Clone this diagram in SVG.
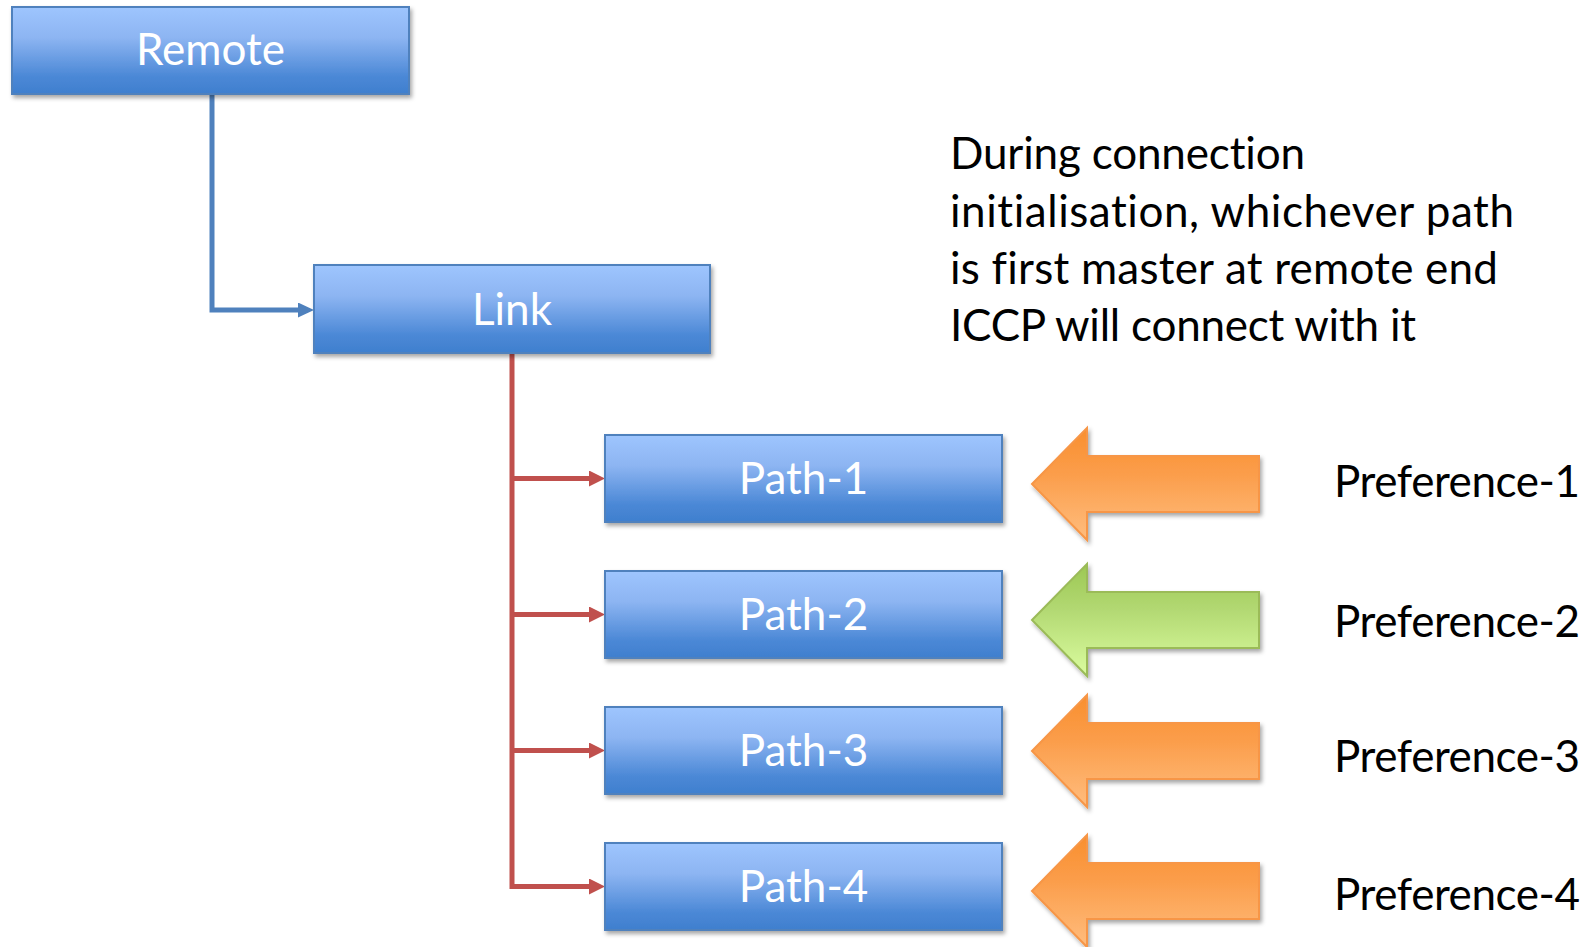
<svg xmlns="http://www.w3.org/2000/svg" width="1591" height="947" viewBox="0 0 1591 947">
<style>
  .box { fill: url(#gBlue); stroke: #4f81bd; stroke-width: 2; filter: url(#shadow); }
  .lbl { font-family: Lato, "Open Sans", "Liberation Sans", sans-serif; font-size: 44px; fill: #ffffff; text-anchor: middle; font-variant-ligatures: none; font-feature-settings: "liga" 0; }
  .txt { font-family: Lato, "Open Sans", "Liberation Sans", sans-serif; font-size: 44px; fill: #000000; font-variant-ligatures: none; font-feature-settings: "liga" 0; }
  .orange { fill: url(#gOrange); stroke: #f79646; stroke-width: 2; filter: url(#shadow); }
  .green { fill: url(#gGreen); stroke: #9bbb59; stroke-width: 2; filter: url(#shadow); }
  .blueLine { fill: none; stroke: #4f81bd; stroke-width: 5; }
  .redLine { fill: none; stroke: #c0504d; stroke-width: 5; }
</style>
<defs>
  <linearGradient id="gBlue" x1="0" y1="0" x2="0" y2="1">
    <stop offset="0" stop-color="#9ec5fe"/>
    <stop offset="0.35" stop-color="#8db5f2"/>
    <stop offset="0.8" stop-color="#4b88d6"/>
    <stop offset="1" stop-color="#3f7fce"/>
  </linearGradient>
  <linearGradient id="gOrange" x1="0" y1="0" x2="0" y2="1">
    <stop offset="0" stop-color="#f98f2e"/>
    <stop offset="0.4" stop-color="#fb9d4a"/>
    <stop offset="1" stop-color="#ffbd7e"/>
  </linearGradient>
  <linearGradient id="gGreen" x1="0" y1="0" x2="0" y2="1">
    <stop offset="0" stop-color="#9cc853"/>
    <stop offset="0.4" stop-color="#b2d872"/>
    <stop offset="1" stop-color="#dbfda0"/>
  </linearGradient>
  <filter id="shadow" x="-10%" y="-10%" width="120%" height="130%">
    <feDropShadow dx="2" dy="3" stdDeviation="2" flood-color="#000000" flood-opacity="0.35"/>
  </filter>
  <marker id="mBlue" markerUnits="userSpaceOnUse" markerWidth="16" markerHeight="15" refX="1" refY="7.5" orient="auto">
    <path d="M0,0 L16,7.5 L0,15 z" fill="#4f81bd"/>
  </marker>
  <marker id="mRed" markerUnits="userSpaceOnUse" markerWidth="16" markerHeight="16" refX="1" refY="8" orient="auto">
    <path d="M0,0 L16,8 L0,16 z" fill="#c0504d"/>
  </marker>
</defs>
<rect width="1591" height="947" fill="#ffffff"/>

<g id="connectors">
  <path class="blueLine" d="M212,94 V310 H299" marker-end="url(#mBlue)"/>
  <path class="redLine" d="M512,353 V886.5 H590" marker-end="url(#mRed)"/>
  <path class="redLine" d="M512,478.5 H590" marker-end="url(#mRed)"/>
  <path class="redLine" d="M512,614.5 H590" marker-end="url(#mRed)"/>
  <path class="redLine" d="M512,750.5 H590" marker-end="url(#mRed)"/>
</g>

<g id="remote">
  <rect class="box" x="12" y="7" width="397" height="87"/>
  <text class="lbl" x="210.5" y="65">Remote</text>
</g>
<g id="link">
  <rect class="box" x="314" y="265" width="396" height="88"/>
  <text class="lbl" x="512" y="325">Link</text>
</g>
<g id="path1">
  <rect class="box" x="605" y="435" width="397" height="87"/>
  <text class="lbl" x="803.5" y="494">Path-1</text>
</g>
<g id="path2">
  <rect class="box" x="605" y="571" width="397" height="87"/>
  <text class="lbl" x="803.5" y="630">Path-2</text>
</g>
<g id="path3">
  <rect class="box" x="605" y="707" width="397" height="87"/>
  <text class="lbl" x="803.5" y="766">Path-3</text>
</g>
<g id="path4">
  <rect class="box" x="605" y="843" width="397" height="87"/>
  <text class="lbl" x="803.5" y="902">Path-4</text>
</g>

<g id="arrow1">
  <path class="orange" d="M1032,484 L1087,428 V456 H1259 V512 H1087 V540 Z"/>
</g>
<g id="arrow2">
  <path class="green" d="M1032,620 L1087,564 V592 H1259 V648 H1087 V676 Z"/>
</g>
<g id="arrow3">
  <path class="orange" d="M1032,751 L1087,695 V723 H1259 V779 H1087 V807 Z"/>
</g>
<g id="arrow4">
  <path class="orange" d="M1032,891 L1087,835 V863 H1259 V919 H1087 V947 Z"/>
</g>

<g id="pref1"><text class="txt" x="1334" y="497" textLength="246">Preference-1</text></g>
<g id="pref2"><text class="txt" x="1334" y="637" textLength="246">Preference-2</text></g>
<g id="pref3"><text class="txt" x="1334" y="772" textLength="246">Preference-3</text></g>
<g id="pref4"><text class="txt" x="1334" y="910" textLength="246">Preference-4</text></g>

<g id="note">
  <text class="txt" x="950" y="169" textLength="355">During connection</text>
  <text class="txt" x="950" y="226.5" textLength="564">initialisation, whichever path</text>
  <text class="txt" x="950" y="284" textLength="548">is first master at remote end</text>
  <text class="txt" x="950" y="341" textLength="466">ICCP will connect with it</text>
</g>
</svg>
